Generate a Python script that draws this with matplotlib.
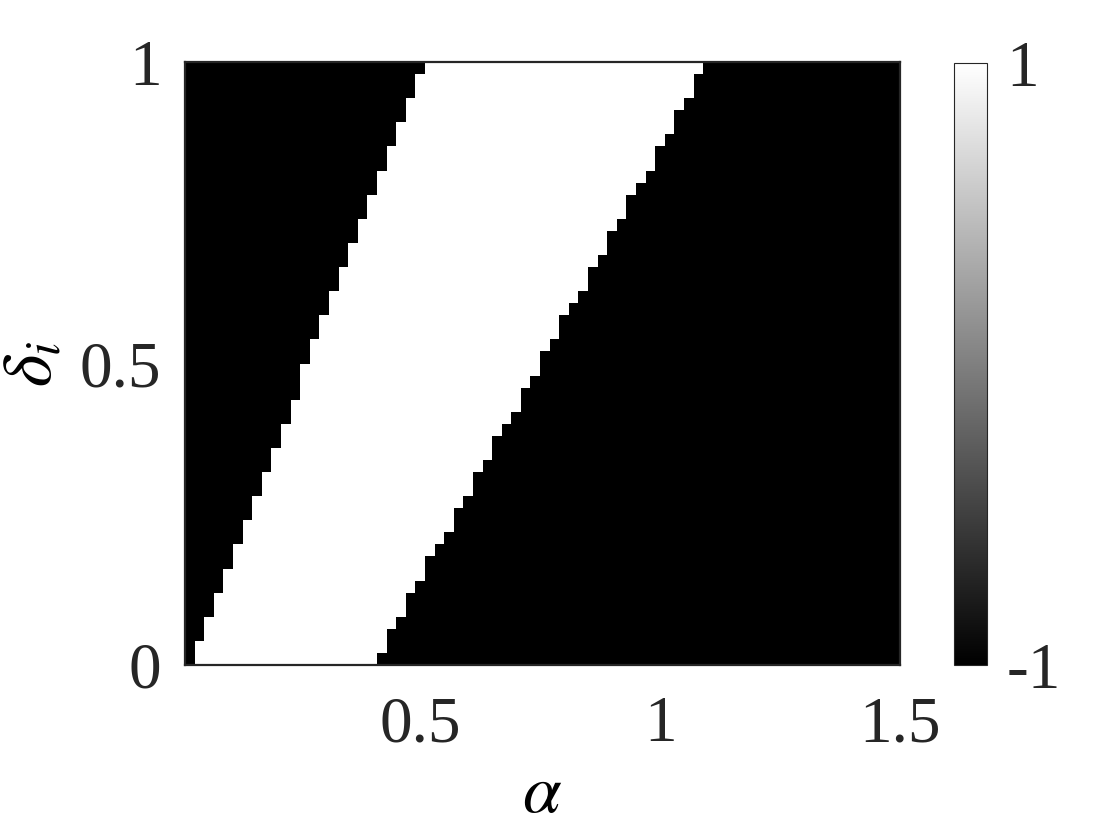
import numpy as np
import matplotlib.pyplot as plt

plt.rcParams['font.family'] = ['Liberation Serif', 'DejaVu Serif']
plt.rcParams['mathtext.fontset'] = 'stix'

# grid of the map: alpha columns (cell centres) and delta_i rows (cell centres)
alpha = np.round(np.arange(0.02, 1.5001, 0.02), 2)
delta = np.round(np.arange(0.01, 1.0, 0.02), 2)

# for each delta_i row, where the white (+1) band starts and ends in alpha
alpha_left = [0.025, 0.035, 0.045, 0.054, 0.064, 0.074, 0.084, 0.094, 0.103, 0.113,
              0.123, 0.133, 0.143, 0.152, 0.162, 0.172, 0.182, 0.192, 0.201, 0.211,
              0.221, 0.231, 0.241, 0.250, 0.260, 0.270, 0.280, 0.290, 0.299, 0.309,
              0.319, 0.329, 0.339, 0.348, 0.358, 0.368, 0.378, 0.388, 0.397, 0.407,
              0.417, 0.427, 0.437, 0.446, 0.456, 0.466, 0.476, 0.486, 0.495, 0.505]
alpha_right = [0.407, 0.421, 0.435, 0.449, 0.463, 0.477, 0.491, 0.505, 0.519, 0.533,
               0.547, 0.561, 0.575, 0.589, 0.603, 0.617, 0.631, 0.645, 0.659, 0.673,
               0.687, 0.701, 0.715, 0.729, 0.743, 0.757, 0.771, 0.785, 0.799, 0.813,
               0.827, 0.841, 0.855, 0.869, 0.883, 0.897, 0.911, 0.925, 0.939, 0.953,
               0.967, 0.981, 0.995, 1.009, 1.023, 1.037, 1.051, 1.065, 1.079, 1.093]

Z = -np.ones((len(delta), len(alpha)))
for k in range(len(delta)):
    band = (alpha >= alpha_left[k]) & (alpha < alpha_right[k])
    Z[k, band] = 1

fig = plt.figure(figsize=(11.2, 8.4), dpi=100)
ax = fig.add_axes([185 / 1120, 175 / 840, 715 / 1120, 603 / 840])
cax = fig.add_axes([954 / 1120, 175 / 840, 33 / 1120, 602 / 840])

im = ax.imshow(Z, cmap='gray', vmin=-1, vmax=1, origin='lower', aspect='auto',
               extent=[alpha[0] - 0.01, alpha[-1] + 0.01, 0, 1], interpolation='antialiased')
ax.set_xlim(0.01, 1.5)
ax.set_ylim(0, 1)

ax.set_xticks([0.5, 1, 1.5])
ax.set_xticklabels(['0.5', '1', '1.5'])
ax.set_yticks([0, 0.5, 1])
ax.set_yticklabels(['0', '0.5', '1'])
ax.tick_params(axis='x', length=0, pad=22, labelsize=47, colors='#262626')
ax.tick_params(axis='y', length=0, pad=17, labelsize=47, colors='#262626')
for s in ax.spines.values():
    s.set_color('#262626')
    s.set_linewidth(1.6)

ax.set_xlabel(r'$\alpha$', fontsize=50, labelpad=6)
ax.set_ylabel(r'$\delta_i$', fontsize=50, labelpad=10)

cb = fig.colorbar(im, cax=cax)
cb.set_ticks([-1, 1])
cb.set_ticklabels(['-1', '1'])
cb.ax.tick_params(length=0, pad=14, labelsize=47, colors='#262626')
cb.outline.set_linewidth(0.8)
cb.outline.set_edgecolor('#262626')

fig.savefig('out.png', dpi=100, facecolor='white')
